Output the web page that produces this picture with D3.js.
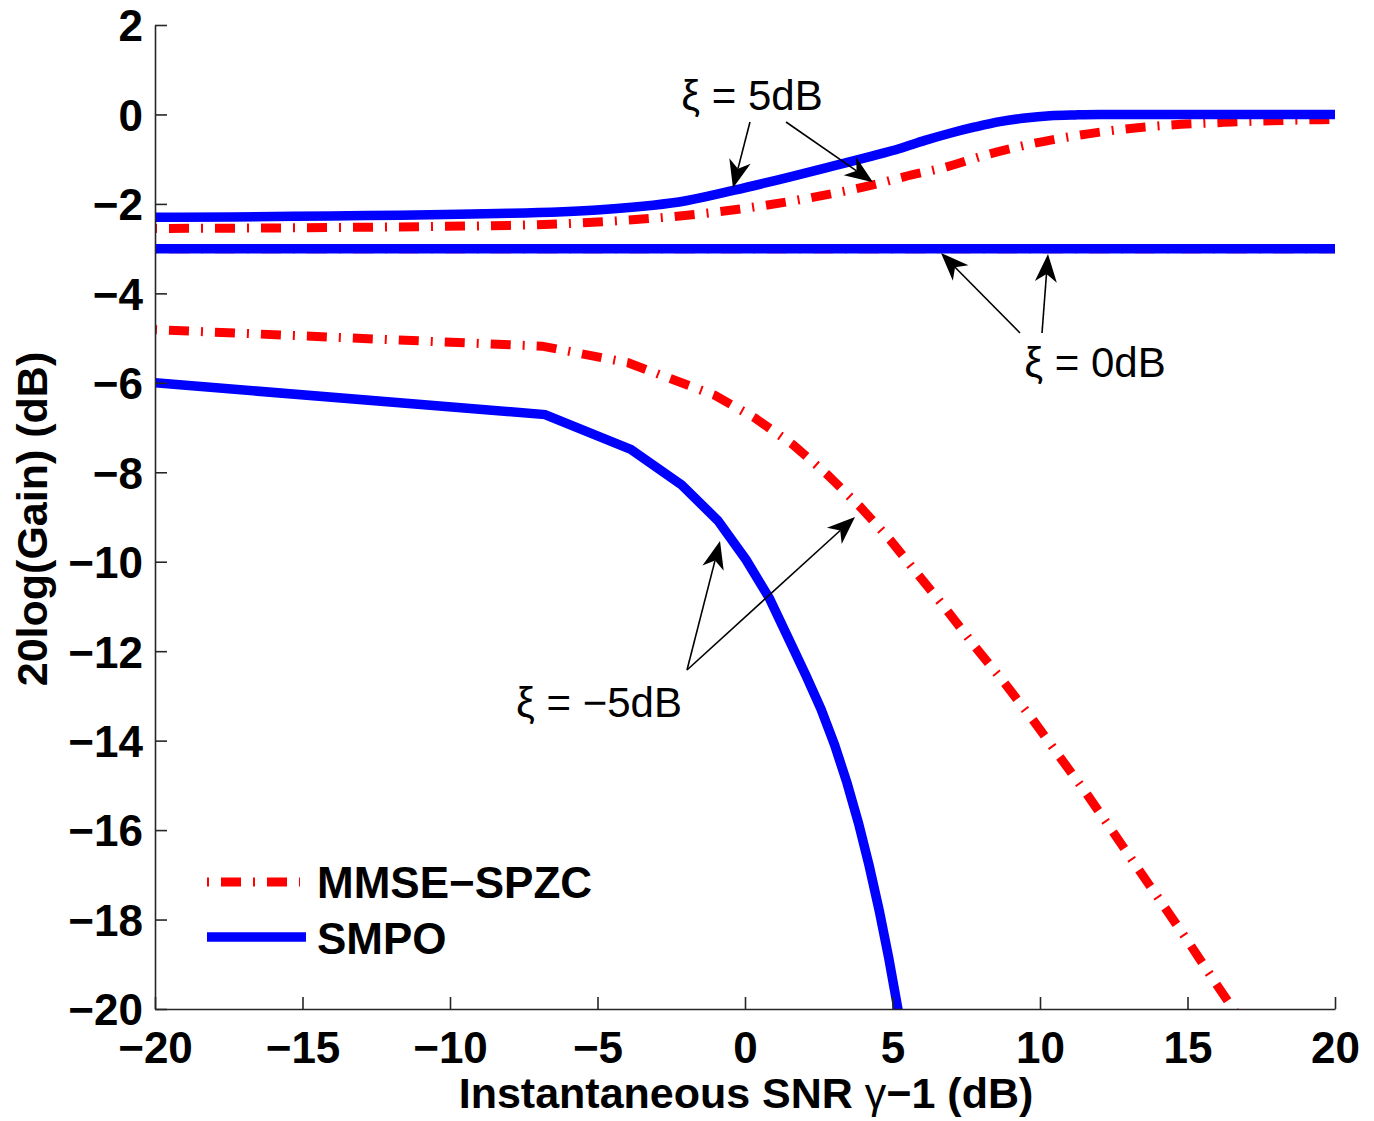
<!DOCTYPE html>
<html><head><meta charset="utf-8">
<script src="https://cdn.jsdelivr.net/npm/d3@7"></script>
<style>
body{margin:0;background:#fff}
text{font-family:"Liberation Sans",Arial,Helvetica,sans-serif}
</style>
</head><body>
<svg id="c" width="1374" height="1121"></svg>
<script>
// ---- data ----
const xTicks = [-20,-15,-10,-5,0,5,10,15,20];
const yTicks = [2,0,-2,-4,-6,-8,-10,-12,-14,-16,-18,-20];

// xi = 5 dB
const smpo5Snr  = [-20,-8,-4.9,-2,-0.4,1.5,3.0,4.3,5.25,6.1,6.95,7.8,8.64,9.5,10.34,11.2,12,20];
const smpo5Gain = [-2.30,-2.21,-2.13,-1.93,-1.70,-1.40,-1.15,-0.93,-0.76,-0.58,-0.42,-0.28,-0.16,-0.08,-0.03,-0.01,0,0];
const mmse5Snr  = [-20,-8,-4.6,-0.7,1.9,4.3,5.42,6.84,8.25,9.77,11.36,12.82,14.35,16.5,20];
const mmse5Gain = [-2.55,-2.48,-2.39,-2.16,-1.90,-1.58,-1.39,-1.17,-0.89,-0.65,-0.46,-0.33,-0.24,-0.17,-0.11];

// xi = 0 dB
const smpo0Snr  = [-20,20];
const smpo0Gain = [-3,-3];
const mmse0Snr  = [-20,20];
const mmse0Gain = [-3,-3];

// xi = -5 dB
const smpoM5Snr  = [-20,-6.78,-3.87,-2.15,-0.92,0.04,0.83,1.49,2.07,2.58,3.04,3.46,3.85,4.21,4.55,4.87,5.17,5.4];
const smpoM5Gain = [-6.0,-6.71,-7.49,-8.28,-9.08,-9.96,-10.82,-11.74,-12.55,-13.3,-14.1,-14.95,-15.85,-16.8,-17.8,-18.85,-19.95,-20.8];
const mmseM5Snr  = [-20,-6.88,-3.97,-1.02,0.34,1.64,2.77,3.90,4.92,5.88,6.84,7.80,8.76,9.72,10.62,11.53,12.43,13.28,14.18,15.03,15.88,16.6,17.0];
const mmseM5Gain = [-4.81,-5.18,-5.55,-6.28,-6.79,-7.39,-8.04,-8.77,-9.51,-10.30,-11.08,-11.90,-12.68,-13.50,-14.32,-15.14,-16.0,-16.82,-17.68,-18.50,-19.35,-20.05,-20.4];

const legendLabels = ["MMSE\u2212SPZC","SMPO"];
const xLabel = "Instantaneous SNR ";
const yLabel = "20log(Gain) (dB)";

// annotations: text position and arrows (data units)
const annotations = [
  {text:"\u03be = 5dB", tx:0.237, ty:0.099,
   arrows:[[0.169,-0.169,-0.407,-1.645],[1.390,-0.169,4.339,-1.514]]},
  {text:"\u03be = 0dB", tx:11.864, ty:-5.870,
   arrows:[[9.322,-4.886,6.644,-3.097],[10.068,-4.886,10.271,-3.12]]},
  {text:"\u03be = \u22125dB", tx:-4.949, ty:-13.472,
   arrows:[[-1.966,-12.421,-0.847,-9.537],[-1.966,-12.421,3.729,-9.0]]}
];

// ---- drawing ----
const svg = d3.select("#c");
const L=155, R=1335, T=25, B=1009;
const x = d3.scaleLinear().domain([-20,20]).range([L,R]);
const y = d3.scaleLinear().domain([-20,2]).range([B,T]);
const fmt = d => d<0 ? "\u2212"+Math.abs(d) : String(d);

const RED="#ff0000", BLUE="#0000ff";
const dash = "2,12,20,12";

svg.append("defs").append("clipPath").attr("id","clip")
  .append("rect").attr("x",L).attr("y",T).attr("width",R-L).attr("height",B-T);

const line = d3.line().x(d=>x(d[0])).y(d=>y(d[1]));
const zip = (a,b)=>a.map((v,i)=>[v,b[i]]);
const g = svg.append("g").attr("clip-path","url(#clip)");

function drawSeries(sx,sy,color,isDash,curve){
  g.append("path").datum(zip(sx,sy))
    .attr("d", line.curve(curve||d3.curveLinear))
    .attr("fill","none").attr("stroke",color)
    .attr("stroke-width", isDash?9:9.5)
    .attr("stroke-dasharray", isDash?dash:null);
}
drawSeries(mmse0Snr,mmse0Gain,RED,true);
drawSeries(smpo0Snr,smpo0Gain,BLUE,false);
drawSeries(mmse5Snr,mmse5Gain,RED,true,d3.curveMonotoneX);
drawSeries(smpo5Snr,smpo5Gain,BLUE,false,d3.curveMonotoneX);
drawSeries(mmseM5Snr,mmseM5Gain,RED,true);
drawSeries(smpoM5Snr,smpoM5Gain,BLUE,false);

// axes
const fontTick = 44;
const ax = svg.append("g").attr("transform",`translate(0,${B})`)
  .call(d3.axisBottom(x).tickValues(xTicks).tickFormat(fmt).tickSizeInner(-12).tickSizeOuter(0).tickPadding(23));
const ay = svg.append("g").attr("transform",`translate(${L},0)`)
  .call(d3.axisLeft(y).tickValues(yTicks).tickFormat(fmt).tickSizeInner(-12).tickSizeOuter(0).tickPadding(12));
[ax,ay].forEach(a=>{
  a.select(".domain").attr("stroke","#262626").attr("stroke-width",1.6);
  a.selectAll(".tick line").attr("stroke","#262626").attr("stroke-width",1.6);
  a.selectAll(".tick text").attr("font-size",fontTick).attr("font-weight","bold")
    .attr("fill","#000").style("font-family",'"Liberation Sans",Arial,sans-serif');
});
ay.selectAll(".tick text").attr("dy","0.36em");

// axis titles
const xt = svg.append("text").attr("x",746).attr("y",1108).attr("text-anchor","middle")
  .attr("font-size",43).attr("font-weight","bold").text(xLabel);
xt.append("tspan").attr("font-weight","normal").text("\u03b3");
xt.append("tspan").text("\u22121 (dB)");
svg.append("text").attr("transform","translate(47,519) rotate(-90)")
  .attr("text-anchor","middle").attr("font-size",43).attr("font-weight","bold").text(yLabel);

// legend
const leg = svg.append("g");
leg.append("line").attr("x1",207).attr("x2",300).attr("y1",882).attr("y2",882)
  .attr("stroke",RED).attr("stroke-width",9).attr("stroke-dasharray",dash);
leg.append("line").attr("x1",207).attr("x2",306).attr("y1",937).attr("y2",937)
  .attr("stroke",BLUE).attr("stroke-width",9.5);
leg.append("text").attr("x",317).attr("y",898).attr("font-size",44).attr("font-weight","bold").text(legendLabels[0]);
leg.append("text").attr("x",317).attr("y",954).attr("font-size",44).attr("font-weight","bold").text(legendLabels[1]);

// annotations
function arrow(x0,y0,x1,y1){
  const X0=x(x0),Y0=y(y0),X1=x(x1),Y1=y(y1);
  const ang=Math.atan2(Y1-Y0,X1-X0);
  const len=28, hw=11, notch=8;
  const ux=Math.cos(ang), uy=Math.sin(ang), px=-uy, py=ux;
  const bx=X1-ux*len, by=Y1-uy*len;
  const nx=X1-ux*(len-notch), ny=Y1-uy*(len-notch);
  svg.append("line").attr("x1",X0).attr("y1",Y0).attr("x2",nx).attr("y2",ny)
    .attr("stroke","#000").attr("stroke-width",1.6);
  svg.append("path").attr("d",`M${X1},${Y1}L${bx+px*hw},${by+py*hw}L${nx},${ny}L${bx-px*hw},${by-py*hw}Z`)
    .attr("fill","#000");
}
annotations.forEach(a=>{
  svg.append("text").attr("x",x(a.tx)).attr("y",y(a.ty)).attr("text-anchor","middle")
    .attr("font-size",42).text(a.text);
  a.arrows.forEach(r=>arrow(...r));
});
</script>
</body></html>
